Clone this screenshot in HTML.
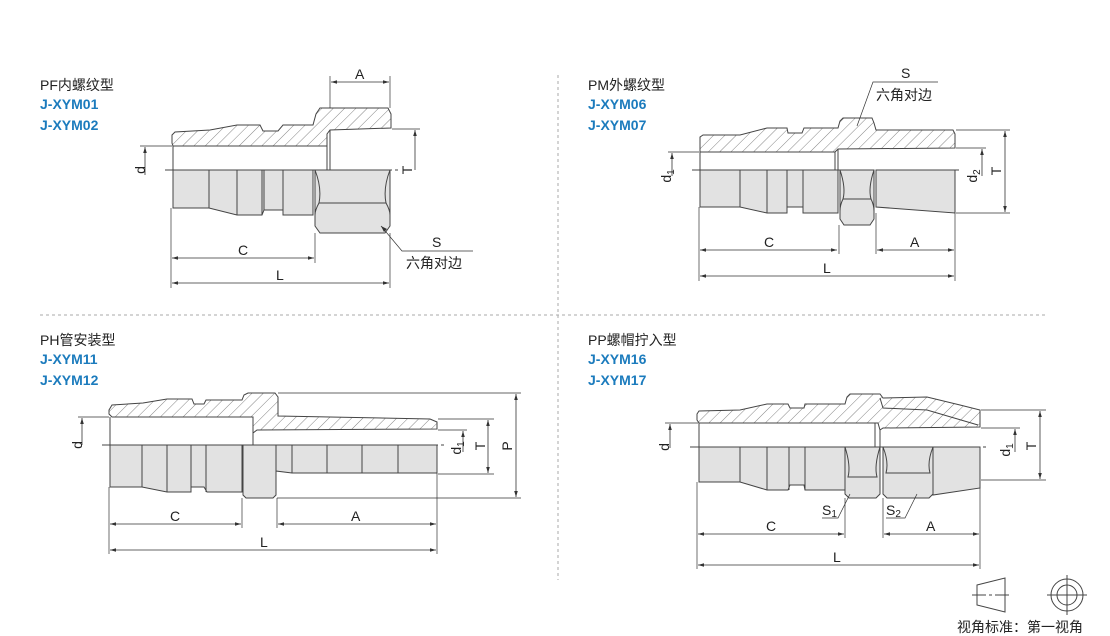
<!DOCTYPE html>
<html><head><meta charset="utf-8"><style>
body{margin:0;background:#fff;}
svg{display:block;}
text{font-family:"Liberation Sans","Noto Sans CJK SC",sans-serif;fill:#222;}
.t{font-size:14px;}
.b{font-size:14px;font-weight:bold;fill:#1b7bbd;}
.l{font-size:14px;}
.h{fill:url(#hatch);stroke:#444;stroke-width:1;}
.s{fill:#e2e2e2;stroke:#444;stroke-width:1;}
.o{fill:none;stroke:#444;stroke-width:1;}
.dim{fill:none;stroke:#333;stroke-width:0.8;marker-start:url(#ar);marker-end:url(#ar);}
.ext{fill:none;stroke:#333;stroke-width:0.7;}
.cl{fill:none;stroke:#444;stroke-width:1;stroke-dasharray:14,3,3,3;}
.sep{fill:none;stroke:#aaa;stroke-width:1;stroke-dasharray:3,3;}
</style></head><body>
<svg width="1110" height="636" viewBox="0 0 1110 636" xmlns="http://www.w3.org/2000/svg">
<defs>
<pattern id="hatch" width="8" height="8" patternUnits="userSpaceOnUse" patternTransform="rotate(45)">
<rect width="8" height="8" fill="#fff"/><line x1="0" y1="0" x2="0" y2="8" stroke="#666" stroke-width="0.8"/>
</pattern>
<marker id="ar" viewBox="0 0 10 10" refX="10" refY="5" markerWidth="9" markerHeight="6" orient="auto-start-reverse" markerUnits="userSpaceOnUse">
<path d="M0,2 L10,5 L0,8 z" fill="#333"/></marker>
<marker id="ar1" viewBox="0 0 10 10" refX="10" refY="5" markerWidth="9" markerHeight="6" orient="auto" markerUnits="userSpaceOnUse">
<path d="M0,2 L10,5 L0,8 z" fill="#333"/></marker>
</defs>

<line class="sep" x1="40" y1="315" x2="1045" y2="315"/>
<line class="sep" x1="558" y1="75" x2="558" y2="580"/>

<!-- ===== Panel 1 PF ===== -->
<text class="t" x="40" y="90">PF内螺纹型</text>
<text class="b" x="40" y="109">J-XYM01</text>
<text class="b" x="40" y="130">J-XYM02</text>
<polygon class="h" points="172,135 175,132 210,130 237,125 260,125 263,131 278,131 283,125 313,125 316,114 320,108 388,108 391,114 391,128 330,130 327,134 327,146 173,146 172,143"/>
<line class="o" x1="173" y1="146" x2="173" y2="170"/>
<line class="o" x1="327" y1="146" x2="327" y2="170"/>
<line class="o" x1="330" y1="130" x2="330" y2="170"/>
<polygon class="s" points="173,170 313,170 313,215 283,215 283,210 264,210 262,215 237,215 209,208 173,208"/>
<line class="o" x1="209" y1="170" x2="209" y2="208"/><line class="o" x1="237" y1="170" x2="237" y2="215"/>
<line class="o" x1="262" y1="170" x2="262" y2="215"/><line class="o" x1="264" y1="170" x2="264" y2="210"/>
<line class="o" x1="283" y1="170" x2="283" y2="215"/>
<polygon class="s" points="315,170 390,170 390,226 385,233 320,233 315,226"/>
<path class="o" d="M315,170 Q322,188 319,203 L386,203 Q383,188 390,170"/>
<path class="o" d="M319,203 Q315,210 315,215 M386,203 Q390,210 390,215"/>
<line class="cl" x1="165" y1="170" x2="398" y2="170"/>
<line class="ext" x1="330" y1="76" x2="330" y2="108"/><line class="ext" x1="390" y1="76" x2="390" y2="108"/>
<line class="dim" x1="331" y1="82" x2="389" y2="82"/><text class="l" x="355" y="79">A</text>
<line class="ext" x1="140" y1="146" x2="172" y2="146"/>
<line x1="145" y1="175" x2="145" y2="147" stroke="#333" stroke-width="0.8" marker-end="url(#ar1)"/>
<text class="l" transform="translate(145,170) rotate(-90)" text-anchor="middle">d</text>
<line class="ext" x1="392" y1="129" x2="420" y2="129"/>
<line x1="415" y1="170" x2="415" y2="130" stroke="#333" stroke-width="0.8" marker-end="url(#ar1)"/>
<text class="l" transform="translate(412,170) rotate(-90)" text-anchor="middle">T</text>
<line class="ext" x1="171" y1="208" x2="171" y2="288"/><line class="ext" x1="315" y1="233" x2="315" y2="263"/><line class="ext" x1="390" y1="233" x2="390" y2="288"/>
<line class="dim" x1="172" y1="258" x2="314" y2="258"/><text class="l" x="238" y="255">C</text>
<line class="dim" x1="172" y1="283" x2="389" y2="283"/><text class="l" x="276" y="280">L</text>
<polyline class="ext" points="381,226 402,251 473,251"/>
<path d="M381,226 l6,3 l-3,3 z" fill="#333"/>
<text class="l" x="432" y="247">S</text><text class="l" x="406" y="268">六角对边</text>

<!-- ===== Panel 2 PM ===== -->
<text class="t" x="588" y="90">PM外螺纹型</text>
<text class="b" x="588" y="109">J-XYM06</text>
<text class="b" x="588" y="130">J-XYM07</text>
<polygon class="h" points="700,137 703,135 740,135 767,128 787,128 788,133 802,133 804,128 838,128 840,121 843,118 872,118 874,123 876,130 953,130 955,134 955,148 838,149 835,152 700,152"/>
<line class="o" x1="700" y1="152" x2="700" y2="170"/>
<line class="o" x1="835" y1="152" x2="835" y2="170"/><line class="o" x1="838" y1="149" x2="838" y2="170"/>
<polygon class="s" points="700,170 838,170 838,213 803,213 803,207 787,207 787,213 767,213 740,207 700,207"/>
<line class="o" x1="740" y1="170" x2="740" y2="207"/><line class="o" x1="767" y1="170" x2="767" y2="213"/>
<line class="o" x1="787" y1="170" x2="787" y2="213"/><line class="o" x1="803" y1="170" x2="803" y2="213"/>
<polygon class="s" points="876,170 955,170 955,213 876,207"/>
<polygon class="s" points="840,170 874,170 874,219 870,225 844,225 840,219"/>
<path class="o" d="M840,170 Q846,188 843,199 L871,199 Q868,188 874,170 M843,199 Q840,205 840,211 M871,199 Q874,205 874,211"/>
<line class="cl" x1="692" y1="170" x2="962" y2="170"/>
<line class="ext" x1="668" y1="152" x2="699" y2="152"/>
<line x1="672" y1="176" x2="672" y2="153" stroke="#333" stroke-width="0.8" marker-end="url(#ar1)"/>
<text class="l" transform="translate(671,176) rotate(-90)" text-anchor="middle">d<tspan font-size="10" dy="3">1</tspan></text>
<line class="ext" x1="956" y1="148" x2="986" y2="148"/>
<line x1="982" y1="176" x2="982" y2="149" stroke="#333" stroke-width="0.8" marker-end="url(#ar1)"/>
<text class="l" transform="translate(977,176) rotate(-90)" text-anchor="middle">d<tspan font-size="10" dy="3">2</tspan></text>
<line class="ext" x1="956" y1="130" x2="1010" y2="130"/><line class="ext" x1="956" y1="213" x2="1010" y2="213"/>
<line class="dim" x1="1005" y1="131" x2="1005" y2="212"/>
<text class="l" transform="translate(1001,171) rotate(-90)" text-anchor="middle">T</text>
<line class="ext" x1="699" y1="207" x2="699" y2="281"/><line class="ext" x1="839" y1="225" x2="839" y2="254"/>
<line class="ext" x1="876" y1="213" x2="876" y2="254"/><line class="ext" x1="955" y1="213" x2="955" y2="281"/>
<line class="dim" x1="700" y1="250" x2="837" y2="250"/><text class="l" x="764" y="247">C</text>
<line class="dim" x1="877" y1="250" x2="954" y2="250"/><text class="l" x="910" y="247">A</text>
<line class="dim" x1="700" y1="276" x2="954" y2="276"/><text class="l" x="823" y="273">L</text>
<polyline class="ext" points="857,126 873,82 938,82"/>
<text class="l" x="901" y="78">S</text><text class="l" x="876" y="100">六角对边</text>

<!-- ===== Panel 3 PH ===== -->
<text class="t" x="40" y="345">PH管安装型</text>
<text class="b" x="40" y="364">J-XYM11</text>
<text class="b" x="40" y="385">J-XYM12</text>
<polygon class="h" points="109,410 112,405 143,403 167,399 192,399 194,404 204,404 206,400 242,400 244,395 248,393 275,393 278,397 278,416 430,419 437,422 437,429 257,430 253,433 253,417 112,417 109,414"/>
<line class="o" x1="110" y1="417" x2="110" y2="445"/><line class="o" x1="253" y1="433" x2="253" y2="445"/>
<polygon class="s" points="110,445 242,445 242,492 207,492 204,487 191,487 191,492 167,492 142,487 110,487"/>
<line class="o" x1="142" y1="445" x2="142" y2="487"/><line class="o" x1="167" y1="445" x2="167" y2="492"/>
<line class="o" x1="191" y1="445" x2="191" y2="492"/><line class="o" x1="206" y1="445" x2="206" y2="492"/>
<polygon class="s" points="276,445 437,445 437,473 292,473 276,471"/>
<line class="o" x1="292" y1="445" x2="292" y2="473"/><line class="o" x1="327" y1="445" x2="327" y2="473"/>
<line class="o" x1="362" y1="445" x2="362" y2="473"/><line class="o" x1="398" y1="445" x2="398" y2="473"/>
<polygon class="s" points="243,445 276,445 276,495 273,498 246,498 243,495"/>
<line class="cl" x1="102" y1="445" x2="445" y2="445"/>
<line class="ext" x1="78" y1="417" x2="109" y2="417"/>
<line x1="82" y1="445" x2="82" y2="418" stroke="#333" stroke-width="0.8" marker-end="url(#ar1)"/>
<text class="l" transform="translate(82,445) rotate(-90)" text-anchor="middle">d</text>
<line class="ext" x1="438" y1="430" x2="467" y2="430"/>
<line x1="463" y1="452" x2="463" y2="431" stroke="#333" stroke-width="0.8" marker-end="url(#ar1)"/>
<text class="l" transform="translate(461,448) rotate(-90)" text-anchor="middle">d<tspan font-size="10" dy="3">1</tspan></text>
<line class="ext" x1="438" y1="419" x2="494" y2="419"/><line class="ext" x1="438" y1="474" x2="494" y2="474"/>
<line class="dim" x1="488" y1="420" x2="488" y2="473"/>
<text class="l" transform="translate(485,446) rotate(-90)" text-anchor="middle">T</text>
<line class="ext" x1="278" y1="393" x2="521" y2="393"/><line class="ext" x1="277" y1="498" x2="521" y2="498"/>
<line class="dim" x1="516" y1="394" x2="516" y2="497"/>
<text class="l" transform="translate(512,446) rotate(-90)" text-anchor="middle">P</text>
<line class="ext" x1="109" y1="487" x2="109" y2="554"/><line class="ext" x1="242" y1="498" x2="242" y2="528"/>
<line class="ext" x1="277" y1="498" x2="277" y2="528"/><line class="ext" x1="437" y1="473" x2="437" y2="554"/>
<line class="dim" x1="110" y1="524" x2="241" y2="524"/><text class="l" x="170" y="521">C</text>
<line class="dim" x1="278" y1="524" x2="436" y2="524"/><text class="l" x="351" y="521">A</text>
<line class="dim" x1="110" y1="550" x2="436" y2="550"/><text class="l" x="260" y="547">L</text>

<!-- ===== Panel 4 PP ===== -->
<text class="t" x="588" y="345">PP螺帽拧入型</text>
<text class="b" x="588" y="364">J-XYM16</text>
<text class="b" x="588" y="385">J-XYM17</text>
<polygon class="h" points="697,414 699,411 740,410 767,404 788,404 790,408 804,408 805,404 845,404 847,397 850,394 880,394 883,398 927,397 960,405 980,410 980,427 883,428 880,430 878,423 699,423 697,420"/>
<polyline class="o" points="880,398 883,408 927,410 978,425"/>
<line class="o" x1="699" y1="423" x2="699" y2="447"/><line class="o" x1="875" y1="423" x2="875" y2="447"/><line class="o" x1="880" y1="430" x2="880" y2="447"/>
<polygon class="s" points="699,447 845,447 845,490 805,490 804,485 790,485 788,490 767,490 740,482 699,482"/>
<line class="o" x1="740" y1="447" x2="740" y2="482"/><line class="o" x1="767" y1="447" x2="767" y2="490"/>
<line class="o" x1="789" y1="447" x2="789" y2="490"/><line class="o" x1="805" y1="447" x2="805" y2="490"/>
<polygon class="s" points="933,447 980,447 980,488 933,495"/>
<polygon class="s" points="845,447 880,447 880,494 876,498 849,498 845,494"/>
<path class="o" d="M845,447 Q851,466 848,477 L877,477 Q874,466 880,447"/>
<polygon class="s" points="883,447 933,447 933,494 929,498 887,498 883,494"/>
<path class="o" d="M883,447 Q889,462 886,473 L930,473 Q927,462 933,447"/>
<line class="cl" x1="690" y1="447" x2="988" y2="447"/>
<line class="ext" x1="665" y1="423" x2="698" y2="423"/>
<line x1="670" y1="448" x2="670" y2="424" stroke="#333" stroke-width="0.8" marker-end="url(#ar1)"/>
<text class="l" transform="translate(669,447) rotate(-90)" text-anchor="middle">d</text>
<line class="ext" x1="981" y1="428" x2="1020" y2="428"/>
<line x1="1015" y1="452" x2="1015" y2="429" stroke="#333" stroke-width="0.8" marker-end="url(#ar1)"/>
<text class="l" transform="translate(1010,450) rotate(-90)" text-anchor="middle">d<tspan font-size="10" dy="3">1</tspan></text>
<line class="ext" x1="981" y1="410" x2="1046" y2="410"/><line class="ext" x1="981" y1="480" x2="1046" y2="480"/>
<line class="dim" x1="1040" y1="411" x2="1040" y2="479"/>
<text class="l" transform="translate(1036,446) rotate(-90)" text-anchor="middle">T</text>
<line class="ext" x1="697" y1="482" x2="697" y2="569"/><line class="ext" x1="845" y1="498" x2="845" y2="538"/>
<line class="ext" x1="883" y1="498" x2="883" y2="538"/><line class="ext" x1="980" y1="488" x2="980" y2="569"/>
<line class="dim" x1="698" y1="534" x2="844" y2="534"/><text class="l" x="766" y="531">C</text>
<line class="dim" x1="884" y1="534" x2="979" y2="534"/><text class="l" x="926" y="531">A</text>
<line class="dim" x1="698" y1="565" x2="979" y2="565"/><text class="l" x="833" y="562">L</text>
<polyline class="ext" points="822,518 838,518 850,494"/>
<text class="l" x="822" y="515">S<tspan font-size="10" dy="2">1</tspan></text>
<polyline class="ext" points="886,518 905,518 917,494"/>
<text class="l" x="886" y="515">S<tspan font-size="10" dy="2">2</tspan></text>

<polygon class="o" points="977,585 1005,578 1005,612 977,605"/>
<line class="cl" x1="972" y1="595" x2="1012" y2="595" stroke-dasharray="8,2,2,2"/>
<circle class="o" cx="1067" cy="595" r="16"/><circle class="o" cx="1067" cy="595" r="10"/>
<line class="o" x1="1047" y1="595" x2="1087" y2="595"/><line class="o" x1="1067" y1="575" x2="1067" y2="615"/>
<text x="957" y="632" style="font-size:14px">视角标准：第一视角</text>
</svg>
</body></html>
